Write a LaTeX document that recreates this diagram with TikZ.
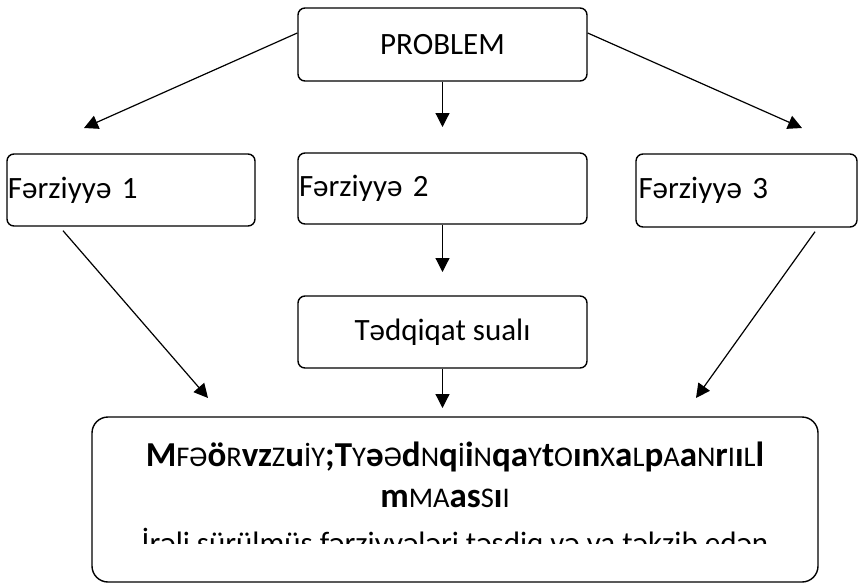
\documentclass[tikz,border=0pt]{standalone}
\usepackage{fontspec}
\setmainfont{Carlito}
\usetikzlibrary{arrows.meta}
\newcommand{\Bq}[1]{{\fontsize{35}{42}\selectfont\bfseries #1}}
\newcommand{\Sq}[1]{{\fontsize{28.5}{34}\selectfont #1}}
\begin{document}
\begin{tikzpicture}[x=1pt,y=-1pt,
  box/.style={draw, line width=1.4pt, rounded corners=7pt, inner sep=0pt},
  arr/.style={line width=1.2pt, -{Triangle[length=14pt,width=14pt]}},
  txt/.style={font=\fontsize{31}{37}\selectfont}]
\useasboundingbox (0,0) rectangle (858,584);
% boxes
\node[box, txt, minimum width=289pt, minimum height=73pt] (prob) at (442.5,44.5) {PROBLEM};
\node[box, txt, minimum width=248pt, minimum height=72pt, text width=246pt, align=left] (f1) at (131,190) {Fərziyyə 1};
\node[box, txt, minimum width=289pt, minimum height=71pt, text width=287pt, align=left] (f2) at (442.5,188.5) {Fərziyyə 2};
\node[box, txt, minimum width=221pt, minimum height=73pt, text width=216pt, align=left] (f3) at (746.5,190.5) {Fərziyyə 3};
\node[box, txt, minimum width=289pt, minimum height=72pt] (tq) at (442.5,332) {Tədqiqat sualı};
\node[box, rounded corners=16pt, minimum width=726pt, minimum height=165pt] (bot) at (455,499.5) {};
% text of the bottom box
\node[anchor=base, inner sep=0pt] (l1) at (455,466) {\Bq{M}\Sq{FƏ}\Bq{ö}\Sq{R}\Bq{vz}\Sq{Z}\Bq{u}\Sq{İY}\Bq{;T}\Sq{Y}\Bq{ə}\Sq{Ə}\Bq{d}\Sq{N}\Bq{q}\Sq{İ}\Bq{i}\Sq{N}\Bq{qa}\Sq{Y}\Bq{t}\Sq{O}\Bq{ın}\Sq{X}\Bq{a}\Sq{L}\Bq{p}\Sq{A}\Bq{a}\Sq{N}\Bq{r}\Sq{I}\Bq{ı}\Sq{L}\Bq{l}};
\node[anchor=base, inner sep=0pt] (l2) at (445,507) {\Bq{m}\Sq{MA}\Bq{as}\Sq{S}\Bq{ı}\Sq{I}};
\begin{scope}
\clip (92,417) rectangle (818,543);
\node[anchor=base, inner sep=0pt, txt] (l3) at (455,553) {İrəli sürülmüş fərziyyələri təsdiq və ya təkzib edən};
\end{scope}
% arrow ends
\coordinate (a1) at (84,128);
\coordinate (a2) at (442.5,127);
\coordinate (a3) at (802,128);
\coordinate (a4) at (442.5,272);
\coordinate (a5) at (442.5,408);
\coordinate (a6) at (208,398);
\coordinate (a7) at (696,398);
% connectors
\draw[arr] ([yshift=11.5pt]prob.west) -- (a1);
\draw[arr] (prob.south) -- (a2);
\draw[arr] ([yshift=11.5pt]prob.east) -- (a3);
\draw[arr] (f2.south) -- (a4);
\draw[arr] (tq.south) -- (a5);
\draw[arr] ([shift={(-68pt,-4pt)}]f1.south) -- (a6);
\draw[arr] ([shift={(68.5pt,-4pt)}]f3.south) -- (a7);
\end{tikzpicture}
\end{document}
